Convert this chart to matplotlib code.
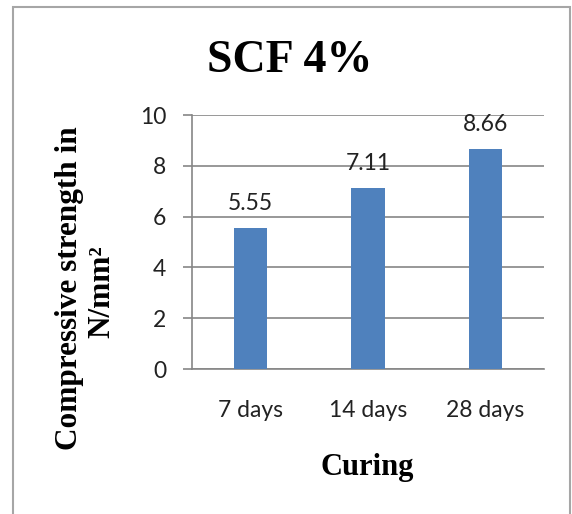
import matplotlib
matplotlib.use('Agg')
import matplotlib.pyplot as plt
from matplotlib.patches import Rectangle

# data
categories = ['7 days', '14 days', '28 days']
strength = [5.55, 7.11, 8.66]
labels = ['5.55', '7.11', '8.66']
yticks = [0, 2, 4, 6, 8, 10]

bar_color = '#4F81BD'
grid_color = '#868686'
serif = 'Liberation Serif'
sans = 'Lato'

fig = plt.figure(figsize=(5.72, 5.14), dpi=100)

# outer chart border
fig.patches.append(Rectangle((13 / 572, -0.05), (570 - 13) / 572, 1.05 - 7 / 514,
                             transform=fig.transFigure, fill=False,
                             edgecolor='#A6A6A6', linewidth=1.5))

ax = fig.add_axes([192 / 572, 1 - 369 / 514, 352 / 572, 254 / 514])

x = range(len(categories))
bars = ax.bar(x, strength, width=0.286, color=bar_color, zorder=3)

for b, lab in zip(bars, labels):
    ax.annotate(lab, (b.get_x() + b.get_width() / 2, b.get_height()),
                xytext=(0, 18), textcoords='offset points',
                ha='center', va='center', fontsize=16.5, family=sans,
                color='#222222')

ax.set_xlim(-0.5, 2.5)
ax.set_ylim(0, 10)
ax.set_yticks(yticks)
ax.set_xticks(list(x))
ax.set_xticklabels(categories)
ax.yaxis.grid(True, color=grid_color, linewidth=1.2, zorder=0)
ax.set_axisbelow(True)

for s in ['top', 'right']:
    ax.spines[s].set_visible(False)
for s in ['left', 'bottom']:
    ax.spines[s].set_color(grid_color)
    ax.spines[s].set_linewidth(1.2)

ax.tick_params(axis='y', length=6.5, width=1.2, color=grid_color, pad=12,
               labelsize=16.5, labelcolor='#222222')
ax.tick_params(axis='x', length=0, pad=22, labelsize=16.5, labelcolor='#222222')
for t in ax.get_xticklabels() + ax.get_yticklabels():
    t.set_family(sans)

fig.text(290 / 572, 1 - 61 / 514, 'SCF 4%', ha='center', va='center',
         family=serif, fontweight='bold', fontsize=33)
fig.text(367 / 572, 1 - 468 / 514, 'Curing', ha='center', va='center',
         family=serif, fontweight='bold', fontsize=22)
fig.text(70 / 572, 1 - 288 / 514, 'Compressive strength in', rotation=90,
         ha='center', va='center', family=serif, fontweight='bold', fontsize=22.5)
fig.text(102 / 572, 1 - 292 / 514, 'N/mm\u00b2', rotation=90,
         ha='center', va='center', family=serif, fontweight='bold', fontsize=22.5)

fig.savefig('out.png', dpi=100)
